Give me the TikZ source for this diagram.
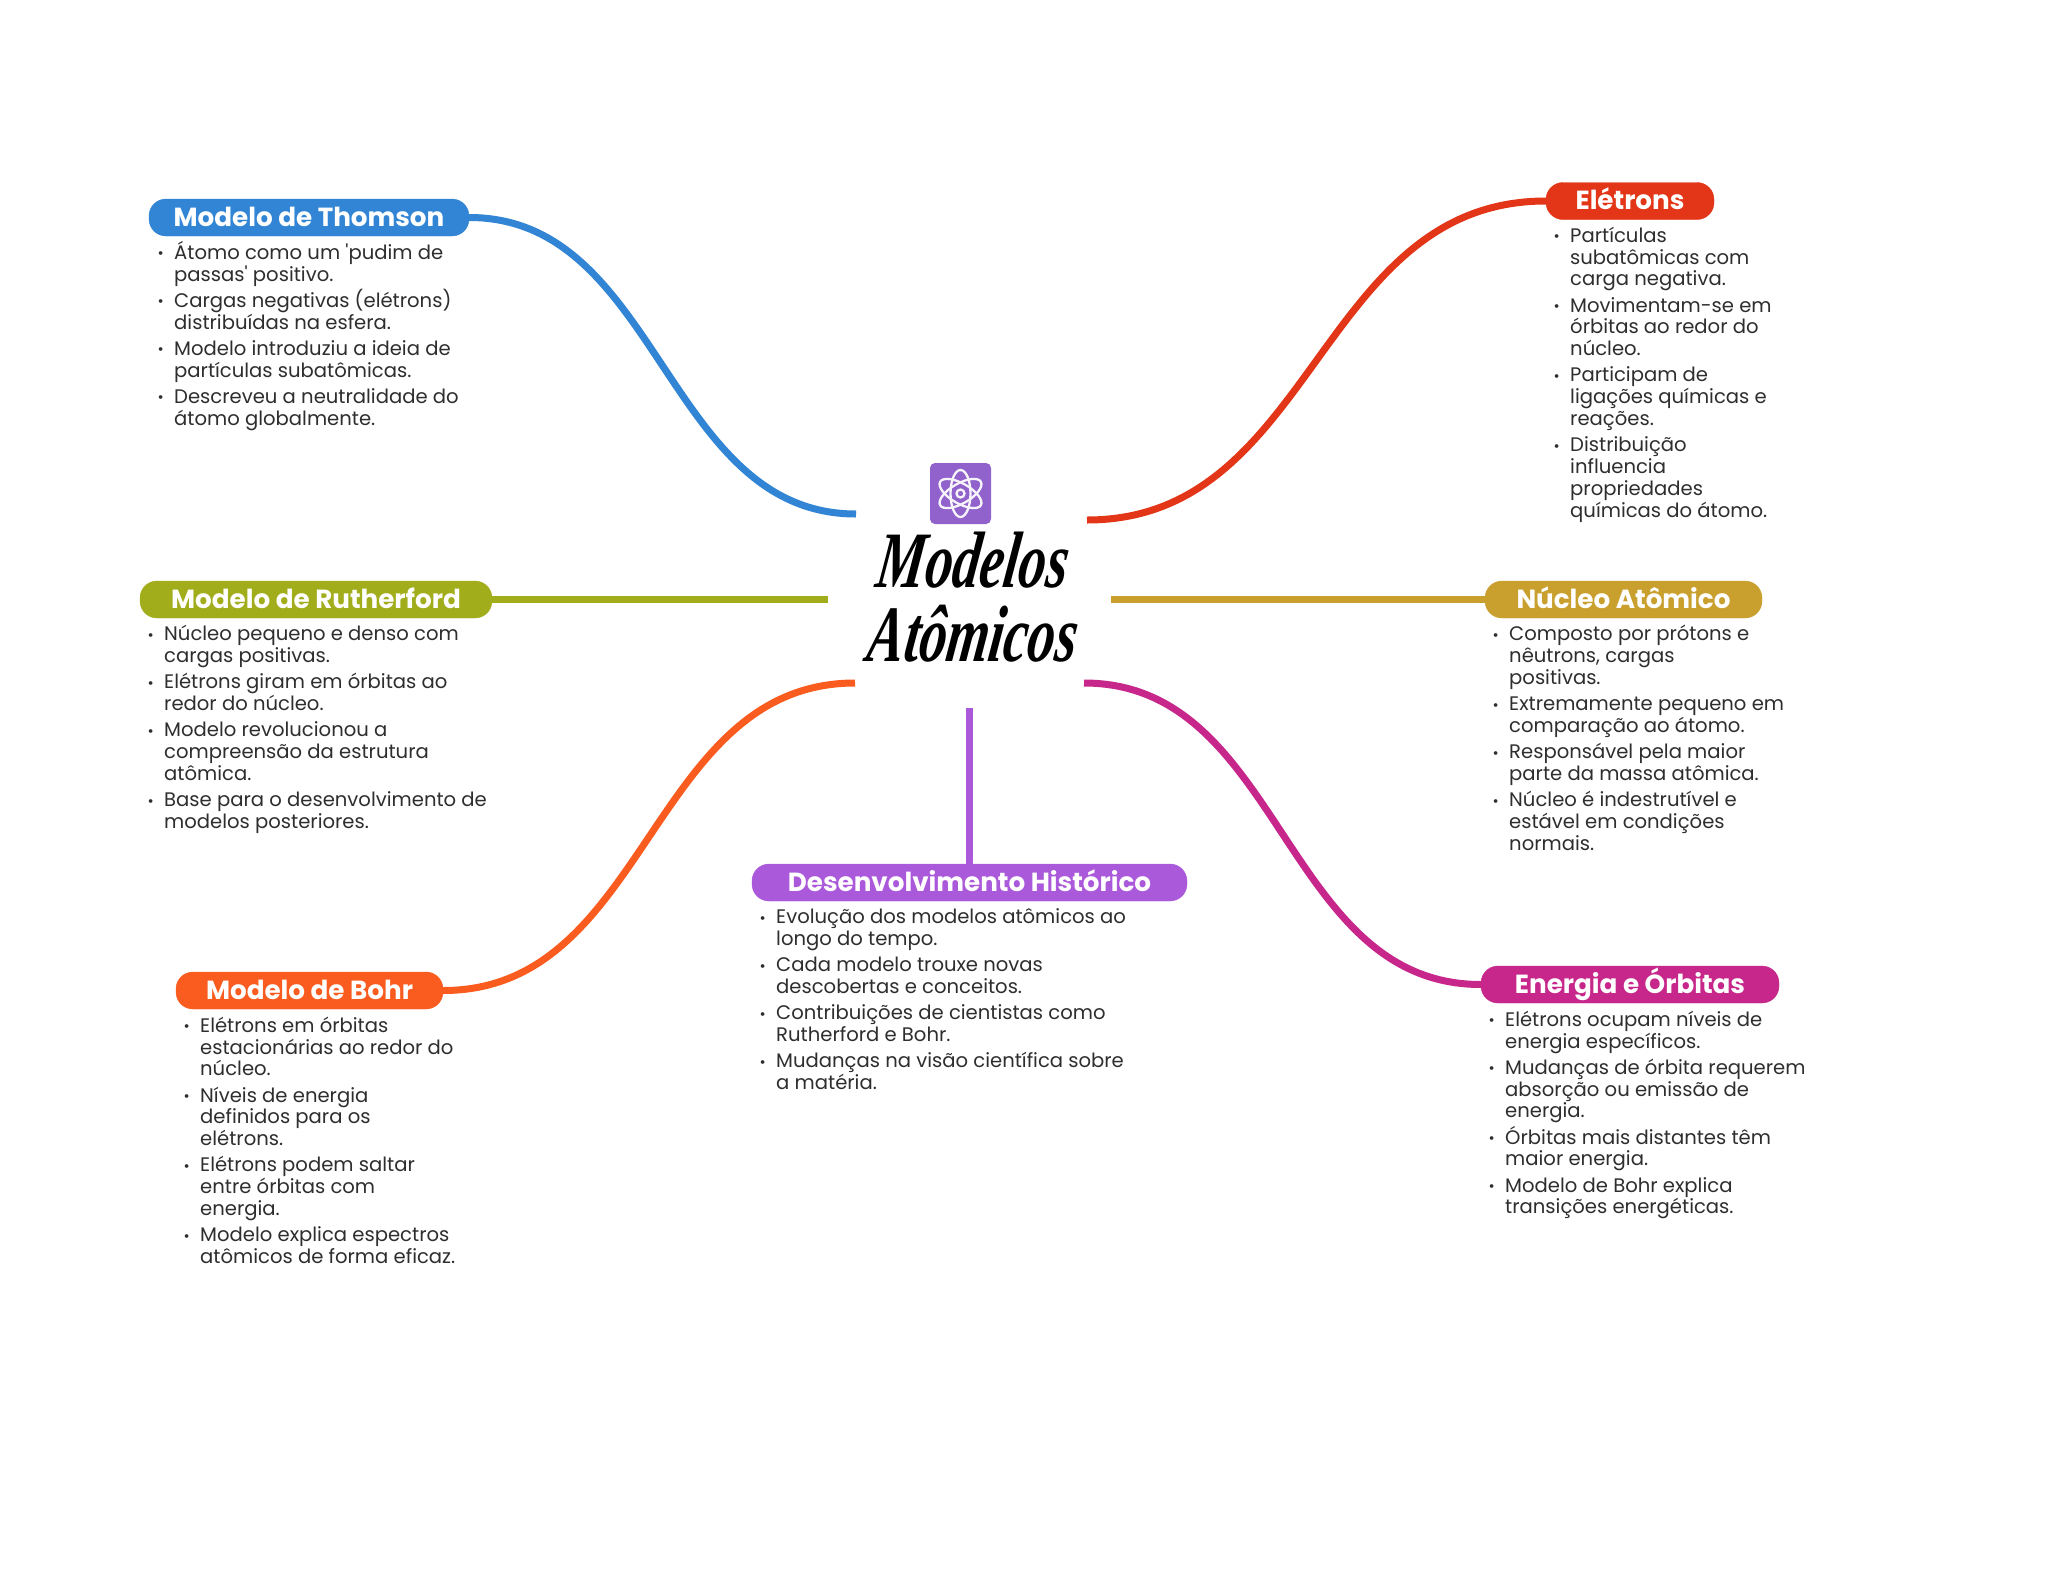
\documentclass[tikz,border=0pt]{standalone}
\usepackage{fontspec}
\setmainfont{Poppins}[Ligatures=TeXOff]
\newfontfamily\titlefont{Liberation Serif}
\definecolor{cblue}{HTML}{3185D4}
\definecolor{cred}{HTML}{E33618}
\definecolor{colive}{HTML}{A2AD1B}
\definecolor{cgold}{HTML}{C9A02E}
\definecolor{corange}{HTML}{FA5C1F}
\definecolor{cmag}{HTML}{C7278A}
\definecolor{cpurple}{HTML}{AB59DB}
\definecolor{cicon}{HTML}{9162CC}
\definecolor{ctext}{HTML}{2E2E2E}
\newcommand{\itm}{\leavevmode\rule{0pt}{24pt}\llap{\raisebox{0.5pt}{\fontsize{15}{15}\selectfont •}\hspace{10.5pt}}}
\newcommand{\gap}{\\[4.4pt]}
\normallineskiplimit=-100pt
\AtBeginDocument{\lineskiplimit=-100pt\relax\normallineskiplimit=-100pt\relax}
\tikzset{
  pill/.style={fill=#1,draw=#1,rounded corners=17pt,minimum height=37pt,inner sep=0pt,text=white,
    text height=20pt,text depth=3pt,
    font=\fontsize{26.2}{26}\selectfont\bfseries},
  body/.style={anchor=north west,inner sep=0pt,align=left,text=ctext,
    font=\fontsize{19.6}{21.8}\selectfont},
  link/.style={line width=7pt,#1},
  ttl/.style={inner sep=0pt,anchor=base,text=black,xslant=0.14,transform shape,font=\fontsize{80}{80}\titlefont\itshape\bfseries},
}
\newcommand{\ttltext}[1]{\scalebox{0.68}[1]{#1}}
\begin{document}
\begin{tikzpicture}[x=1pt,y=-1pt]
\useasboundingbox[fill=white] (0,0) rectangle (2048,1569);
% central topic
\node[fill=cicon,rounded corners=5pt,minimum width=61pt,minimum height=61pt,inner sep=0pt] (icon) at (960.5,493.5) {};
\begin{scope}[shift={(icon.center)},white!92!cicon,line width=2.3pt]
  \foreach \a in {0,60,120} \draw[rotate=\a] (0,0) ellipse (10pt and 23.5pt);
  \draw (0,0) circle (4pt);
\end{scope}
\node[ttl] (t1) at (970,587) {\ttltext{Modelos}};
\node[ttl] (t2) at (970,661) {\ttltext{Atômicos}};
% coordinates at the centre
\coordinate (cThom) at (856,514);
\coordinate (cEle) at (1087,520);
\coordinate (cRuth) at (828,599.5);
\coordinate (cNuc) at (1111,599.5);
\coordinate (cBohr) at (855,683);
\coordinate (cEne) at (1084,683);
\coordinate (cHist) at (969.5,708);
% topics
\node[pill=cblue,minimum width=320pt] (thom) at (309,217.5) {Modelo de Thomson};
\node[pill=cred,minimum width=168pt] (ele) at (1630,201) {Elétrons};
\node[pill=colive,minimum width=352pt] (ruth) at (316,599.5) {Modelo de Rutherford};
\node[pill=cgold,minimum width=277pt] (nuc) at (1623.5,599.5) {Núcleo Atômico};
\node[pill=corange,minimum width=267pt] (bohr) at (309.5,990.5) {Modelo de Bohr};
\node[pill=cpurple,minimum width=435pt] (hist) at (969.5,882.5) {Desenvolvimento Histórico};
\node[pill=cmag,minimum width=298pt] (ene) at (1630,984.5) {Energia e Órbitas};
% connectors
\draw[link=cblue] (thom.east) .. controls +(190,0) and +(-190,0) .. (cThom);
\draw[link=cred] (ele.west) .. controls +(-228,0) and +(228,0) .. (cEle);
\draw[link=colive] (ruth.east) -- (cRuth);
\draw[link=cgold] (nuc.west) -- (cNuc);
\draw[link=corange] (bohr.east) .. controls +(205,0) and +(-205,0) .. (cBohr);
\draw[link=cmag] (ene.west) .. controls +(-198,0) and +(198,0) .. (cEne);
\draw[link=cpurple] (hist.north) -- (cHist);
% bodies
\node[body] (bThom) at (174,235) {\itm Átomo como um 'pudim de\\passas' positivo.\gap
\itm Cargas negativas (elétrons)\\distribuídas na esfera.\gap
\itm Modelo introduziu a ideia de\\partículas subatômicas.\gap
\itm Descreveu a neutralidade do\\átomo globalmente.};
\node[body] (bEle) at (1570,218) {\itm Partículas\\subatômicas com\\carga negativa.\gap
\itm Movimentam-se em\\órbitas ao redor do\\núcleo.\gap
\itm Participam de\\ligações químicas e\\reações.\gap
\itm Distribuição\\influencia\\propriedades\\químicas do átomo.};
\node[body] (bRuth) at (164,616.5) {\itm Núcleo pequeno e denso com\\cargas positivas.\gap
\itm Elétrons giram em órbitas ao\\redor do núcleo.\gap
\itm Modelo revolucionou a\\compreensão da estrutura\\atômica.\gap
\itm Base para o desenvolvimento de\\modelos posteriores.};
\node[body] (bNuc) at (1509,616.5) {\itm Composto por prótons e\\nêutrons, cargas\\positivas.\gap
\itm Extremamente pequeno em\\comparação ao átomo.\gap
\itm Responsável pela maior\\parte da massa atômica.\gap
\itm Núcleo é indestrutível e\\estável em condições\\normais.};
\node[body] (bBohr) at (200,1008) {\itm Elétrons em órbitas\\estacionárias ao redor do\\núcleo.\gap
\itm Níveis de energia\\definidos para os\\elétrons.\gap
\itm Elétrons podem saltar\\entre órbitas com\\energia.\gap
\itm Modelo explica espectros\\atômicos de forma eficaz.};
\node[body] (bHist) at (776,899.5) {\itm Evolução dos modelos atômicos ao\\longo do tempo.\gap
\itm Cada modelo trouxe novas\\descobertas e conceitos.\gap
\itm Contribuições de cientistas como\\Rutherford e Bohr.\gap
\itm Mudanças na visão científica sobre\\a matéria.};
\node[body] (bEne) at (1505,1002) {\itm Elétrons ocupam níveis de\\energia específicos.\gap
\itm Mudanças de órbita requerem\\absorção ou emissão de\\energia.\gap
\itm Órbitas mais distantes têm\\maior energia.\gap
\itm Modelo de Bohr explica\\transições energéticas.};
\end{tikzpicture}
\end{document}
